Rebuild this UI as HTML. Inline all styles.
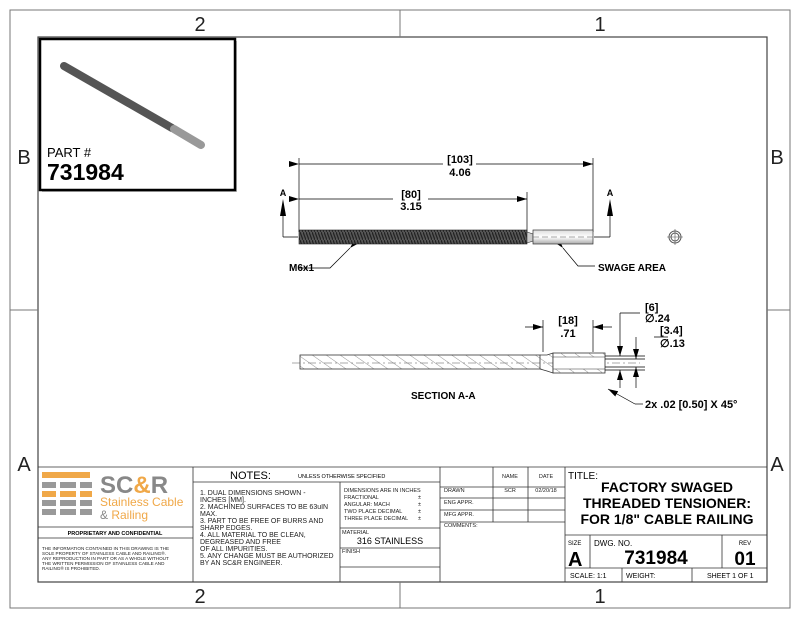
<!DOCTYPE html>
<html><head><meta charset="utf-8"><style>
body{margin:0;background:#fff}
svg{display:block;font-family:"Liberation Sans",sans-serif}
</style></head><body>
<svg width="800" height="618" viewBox="0 0 800 618" xmlns="http://www.w3.org/2000/svg">
<defs>
<marker id="ar" markerWidth="10" markerHeight="6" refX="10" refY="3" orient="auto" markerUnits="userSpaceOnUse"><path d="M0,0 L10,3 L0,6z" fill="#000"/></marker>
<pattern id="thr" width="3" height="8" patternUnits="userSpaceOnUse"><rect width="3" height="8" fill="#555"/><line x1="0" y1="0" x2="3" y2="8" stroke="#222" stroke-width="1.2"/></pattern>
<pattern id="hat" width="8" height="8" patternUnits="userSpaceOnUse" patternTransform="rotate(-55)"><line x1="0" y1="0" x2="0" y2="8" stroke="#777" stroke-width="0.8"/></pattern>
<linearGradient id="sw" x1="0" y1="0" x2="0" y2="1"><stop offset="0" stop-color="#ddd"/><stop offset=".5" stop-color="#fff"/><stop offset="1" stop-color="#aaa"/></linearGradient>
</defs>
<rect x="10" y="10" width="780" height="598" fill="none" stroke="#777" stroke-width="1"/>
<rect x="38" y="37" width="729" height="545" fill="none" stroke="#444" stroke-width="1.2"/>
<line x1="400" y1="10" x2="400" y2="37" stroke="#777"/><line x1="400" y1="582" x2="400" y2="608" stroke="#777"/>
<line x1="10" y1="310" x2="38" y2="310" stroke="#777"/><line x1="767" y1="310" x2="790" y2="310" stroke="#777"/>
<g font-size="20" fill="#222" text-anchor="middle">
<text x="200" y="31">2</text><text x="600" y="31">1</text>
<text x="200" y="603">2</text><text x="600" y="603">1</text>
<text x="24" y="164">B</text><text x="777" y="164">B</text>
<text x="24" y="471">A</text><text x="777" y="471">A</text>
</g>
<!-- part box -->
<rect x="42" y="41" width="195" height="151" fill="#bbb"/>
<rect x="40" y="39" width="195" height="151" fill="#fff" stroke="#000" stroke-width="2.5"/>
<line x1="64" y1="66" x2="172" y2="128" stroke="#555" stroke-width="8" stroke-linecap="round"/>
<line x1="174" y1="129" x2="201" y2="145" stroke="#999" stroke-width="8" stroke-linecap="round"/>
<text x="47" y="157" font-size="13">PART #</text>
<text x="47" y="180" font-size="23" font-weight="bold">731984</text>
<!-- top view -->
<g stroke="#000" stroke-width="0.7" fill="none">
<line x1="299" y1="158" x2="299" y2="232"/><line x1="593" y1="158" x2="593" y2="232"/><line x1="527" y1="192" x2="527" y2="232"/>
<line x1="299" y1="164" x2="443" y2="164" marker-start="url(#ar)"/><line x1="476" y1="164" x2="593" y2="164" marker-end="url(#ar)"/>
<line x1="299" y1="199" x2="393" y2="199" marker-start="url(#ar)"/><line x1="428" y1="199" x2="527" y2="199" marker-end="url(#ar)"/>
<path d="M283,237 H298 M594,237 H610" /><path d="M283,237 V216 M610,237 V216"/>
<path d="M350,248 L330,268 H298" marker-start="url(#ar)"/>
<path d="M563,248 L578,266 H595" marker-start="url(#ar)"/>
</g>
<path d="M280,216 L283,199 L286,216z M607,216 L610,199 L613,216z"/>
<text x="283" y="196" font-size="9" font-weight="bold" text-anchor="middle">A</text>
<text x="610" y="196" font-size="9" font-weight="bold" text-anchor="middle">A</text>
<rect x="299" y="230" width="228" height="14" fill="url(#thr)" stroke="#222" stroke-width="0.6"/>
<path d="M527,232 L533,234 V241 L527,243z" fill="#ccc" stroke="#333" stroke-width="0.6"/>
<rect x="533" y="230" width="60" height="14" fill="url(#sw)" stroke="#333" stroke-width="0.7"/>
<line x1="533" y1="237" x2="593" y2="237" stroke="#555" stroke-width="0.6" stroke-dasharray="6,3"/>
<circle cx="675" cy="237" r="6" fill="none" stroke="#555"/><circle cx="675" cy="237" r="4" fill="none" stroke="#555"/>
<path d="M667,237 H683 M675,229 V245" stroke="#555" stroke-width="0.6"/>
<g font-size="11" font-weight="bold" text-anchor="middle">
<text x="460" y="163">[103]</text><text x="460" y="176">4.06</text>
<text x="411" y="198">[80]</text><text x="411" y="210">3.15</text>
</g>
<text x="289" y="271" font-size="10" font-weight="bold">M6x1</text>
<text x="598" y="271" font-size="10" font-weight="bold">SWAGE AREA</text>
<!-- section -->
<line x1="292" y1="363" x2="640" y2="363" stroke="#555" stroke-width="0.6" stroke-dasharray="8,3,2,3"/>
<rect x="300" y="355" width="240" height="14" fill="url(#hat)" stroke="#333" stroke-width="0.8"/>
<path d="M540,355 L547,355 L553,353 V373 L547,371 L540,369" fill="url(#hat)" stroke="#333" stroke-width="0.8"/>
<rect x="553" y="353" width="52" height="20" fill="#fff" stroke="#333" stroke-width="0.8"/>
<rect x="553" y="353" width="52" height="4" fill="url(#hat)"/><rect x="553" y="369" width="52" height="4" fill="url(#hat)"/>
<line x1="553" y1="357" x2="605" y2="357" stroke="#333" stroke-width="0.6"/><line x1="553" y1="369" x2="605" y2="369" stroke="#333" stroke-width="0.6"/>
<g stroke="#000" stroke-width="0.7" fill="none">
<line x1="543" y1="320" x2="543" y2="352"/><line x1="593" y1="320" x2="593" y2="352"/>
<line x1="525" y1="327" x2="543" y2="327" marker-end="url(#ar)"/><line x1="612" y1="327" x2="593" y2="327" marker-end="url(#ar)"/>
<path d="M605,356 H645 M605,370 H645 M605,359 H645 M605,367 H645"/>
<path d="M620,313 H640 M620,313 V356" marker-end="url(#ar)"/><line x1="620" y1="388" x2="620" y2="370" marker-end="url(#ar)"/>
<path d="M654,337 H668 M636,337 V359" marker-end="url(#ar)"/><line x1="636" y1="388" x2="636" y2="367" marker-end="url(#ar)"/>
<path d="M635,404 L608,389" marker-end="url(#ar)"/><path d="M635,404 H643"/>
</g>
<g font-size="11" font-weight="bold">
<text x="568" y="324" text-anchor="middle">[18]</text><text x="568" y="337" text-anchor="middle">.71</text>
<text x="645" y="311">[6]</text><text x="645" y="322">∅.24</text>
<text x="660" y="334">[3.4]</text><text x="660" y="347">∅.13</text>
<text x="645" y="408">2x .02 [0.50] X 45°</text>
</g>
<text x="411" y="399" font-size="10" font-weight="bold">SECTION A-A</text>
<!-- title block -->
<g stroke="#333" stroke-width="0.8" fill="none">
<path d="M38,467 H767"/>
<path d="M193,467 V582 M440,467 V582 M565,467 V582"/>
<path d="M193,482 H440 M340,482 V582 M340,528 H440 M340,548 H440 M340,567 H440"/>
<path d="M493,467 V522 M528,467 V522 M440,487 H565 M440,498 H565 M440,510 H565 M440,522 H565"/>
<path d="M565,535 H767 M590,535 V568 M722,535 V568 M565,568 H767 M622,568 V582 M692,568 V582"/>
<path d="M38,527 H193 M38,538 H193"/>
</g>
<!-- logo -->
<g>
<rect x="42" y="472" width="48" height="6" fill="#f0a848"/>
<rect x="42" y="482" width="14" height="6" fill="#999"/><rect x="60" y="482" width="16" height="6" fill="#999"/><rect x="80" y="482" width="12" height="6" fill="#999"/>
<rect x="42" y="491" width="14" height="6" fill="#f0a848"/><rect x="60" y="491" width="16" height="6" fill="#f0a848"/><rect x="80" y="491" width="12" height="6" fill="#f0a848"/>
<rect x="42" y="500" width="14" height="6" fill="#999"/><rect x="60" y="500" width="16" height="6" fill="#999"/><rect x="80" y="500" width="12" height="6" fill="#999"/>
<rect x="42" y="509" width="14" height="6" fill="#999"/><rect x="60" y="509" width="16" height="6" fill="#999"/><rect x="80" y="509" width="12" height="6" fill="#999"/>
<text x="100" y="493" font-size="24" font-weight="bold" fill="#888">SC<tspan fill="#f0a848">&amp;</tspan>R</text>
<text x="100" y="506" font-size="12" fill="#f0a848">Stainless Cable</text>
<text x="100" y="519" font-size="12" fill="#888">&amp; <tspan fill="#f0a848">Railing</tspan></text>
</g>
<text x="115" y="535" font-size="5.5" font-weight="bold" text-anchor="middle">PROPRIETARY AND CONFIDENTIAL</text>
<g font-size="4.6" fill="#222">
<text x="42" y="550">THE INFORMATION CONTAINED IN THIS DRAWING IS THE</text>
<text x="42" y="555">SOLE PROPERTY OF STAINLESS CABLE AND RAILING®.</text>
<text x="42" y="560">ANY REPRODUCTION IN PART OR AS A WHOLE WITHOUT</text>
<text x="42" y="565">THE WRITTEN PERMISSION OF STAINLESS CABLE AND</text>
<text x="42" y="570">RAILING® IS PROHIBITED.</text>
</g>
<text x="230" y="479" font-size="11">NOTES:</text>
<text x="298" y="478" font-size="5.5">UNLESS OTHERWISE SPECIFIED</text>
<g font-size="7" fill="#222">
<text x="200" y="495">1. DUAL DIMENSIONS SHOWN -</text>
<text x="200" y="502">INCHES [MM].</text>
<text x="200" y="509">2. MACHINED SURFACES TO BE 63uIN</text>
<text x="200" y="516">MAX.</text>
<text x="200" y="523">3. PART TO BE FREE OF BURRS AND</text>
<text x="200" y="530">SHARP EDGES.</text>
<text x="200" y="537">4. ALL MATERIAL TO BE CLEAN,</text>
<text x="200" y="544">DEGREASED AND FREE</text>
<text x="200" y="551">OF ALL IMPURITIES.</text>
<text x="200" y="558">5. ANY CHANGE MUST BE AUTHORIZED</text>
<text x="200" y="565">BY AN SC&amp;R ENGINEER.</text>
</g>
<g font-size="5.5" fill="#222">
<text x="344" y="492">DIMENSIONS ARE IN INCHES</text>
<text x="344" y="499">FRACTIONAL</text><text x="418" y="499">±</text>
<text x="344" y="506">ANGULAR: MACH</text><text x="418" y="506">±</text>
<text x="344" y="513">TWO PLACE DECIMAL</text><text x="418" y="513">±</text>
<text x="344" y="520">THREE PLACE DECIMAL</text><text x="418" y="520">±</text>
<text x="342" y="534">MATERIAL</text><text x="342" y="553">FINISH</text>
<text x="444" y="492">DRAWN</text><text x="444" y="504">ENG APPR.</text><text x="444" y="516">MFG APPR.</text><text x="444" y="527">COMMENTS:</text>
<text x="510" y="478" text-anchor="middle">NAME</text><text x="546" y="478" text-anchor="middle">DATE</text>
<text x="510" y="492" text-anchor="middle">SCR</text><text x="546" y="492" text-anchor="middle">02/20/18</text>
</g>
<text x="390" y="544" font-size="9" text-anchor="middle">316 STAINLESS</text>
<text x="568" y="479" font-size="10">TITLE:</text>
<g font-size="14" font-weight="bold" text-anchor="middle">
<text x="667" y="492">FACTORY SWAGED</text>
<text x="667" y="508">THREADED TENSIONER:</text>
<text x="667" y="524">FOR 1/8" CABLE RAILING</text>
</g>
<text x="568" y="545" font-size="6">SIZE</text><text x="568" y="566" font-size="20" font-weight="bold">A</text>
<text x="594" y="546" font-size="8">DWG.  NO.</text>
<text x="656" y="564" font-size="19" font-weight="bold" text-anchor="middle">731984</text>
<text x="745" y="545" font-size="6" text-anchor="middle">REV</text>
<text x="745" y="565" font-size="19" font-weight="bold" text-anchor="middle">01</text>
<text x="570" y="578" font-size="7">SCALE: 1:1</text><text x="626" y="578" font-size="7">WEIGHT:</text><text x="707" y="578" font-size="7">SHEET 1 OF 1</text>
</svg>
</body></html>
